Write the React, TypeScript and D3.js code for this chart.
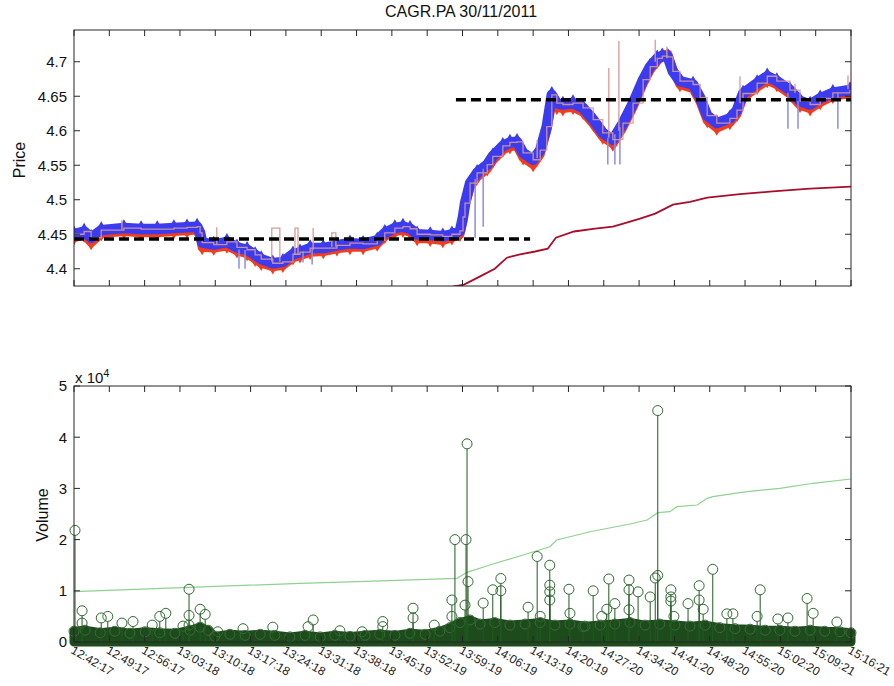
import React from 'react';
import * as d3 from 'd3';

// ---------- tick labels ----------
const timeLabels = ['12:42:17', '12:49:17', '12:56:17', '13:03:18', '13:10:18', '13:17:18', '13:24:18', '13:31:18', '13:38:18', '13:45:19', '13:52:19', '13:59:19', '14:06:19', '14:13:19', '14:20:19', '14:27:20', '14:34:20', '14:41:20', '14:48:20', '14:55:20', '15:02:20', '15:09:21', '15:16:21'];
const priceTicks = [4.4, 4.45, 4.5, 4.55, 4.6, 4.65, 4.7];
const volumeTicks = [0, 10000, 20000, 30000, 40000, 50000];

// ---------- quotes (minutes since 12:42:17) ----------
const quoteTimes = [0.0, 2.0, 3.4, 5.4, 9.9, 13.3, 16.5, 19.8, 22.4, 24.4, 25.0, 25.4, 27.7, 30.3, 32.3, 34.3, 35.9, 37.1, 39.4, 41.4, 43.4, 44.8, 46.8, 49.4, 52.1, 54.7, 57.3, 60.1, 61.6, 63.6, 65.2, 66.6, 68.0, 70.6, 73.1, 74.9, 76.5, 77.1, 77.5, 78.5, 79.9, 81.9, 83.0, 85.0, 86.4, 87.8, 89.0, 91.0, 92.4, 93.7, 94.7, 95.7, 96.9, 98.9, 100.9, 102.9, 104.8, 106.8, 108.8, 110.8, 112.8, 114.2, 115.6, 116.6, 117.7, 118.7, 120.1, 122.7, 124.1, 125.5, 127.4, 130.0, 131.4, 132.6, 135.4, 137.4, 139.3, 141.9, 143.9, 145.9, 147.9, 150.4, 153.8];
const askPrices = [4.450, 4.454, 4.445, 4.456, 4.459, 4.4575, 4.4575, 4.459, 4.460, 4.461, 4.452, 4.438, 4.435, 4.439, 4.431, 4.4275, 4.420, 4.414, 4.408, 4.410, 4.421, 4.424, 4.430, 4.430, 4.434, 4.437, 4.436, 4.441, 4.452, 4.459, 4.461, 4.458, 4.450, 4.449, 4.447, 4.450, 4.455, 4.475, 4.495, 4.524, 4.539, 4.551, 4.563, 4.578, 4.583, 4.584, 4.568, 4.558, 4.572, 4.606, 4.652, 4.640, 4.638, 4.640, 4.633, 4.616, 4.597, 4.587, 4.611, 4.640, 4.674, 4.693, 4.705, 4.708, 4.707, 4.686, 4.672, 4.667, 4.648, 4.622, 4.611, 4.618, 4.630, 4.654, 4.669, 4.679, 4.672, 4.659, 4.643, 4.638, 4.647, 4.655, 4.659];
const bidPrices = [4.445, 4.449, 4.438, 4.451, 4.454, 4.452, 4.452, 4.454, 4.455, 4.456, 4.446, 4.431, 4.430, 4.433, 4.426, 4.422, 4.414, 4.408, 4.403, 4.405, 4.416, 4.419, 4.424, 4.425, 4.429, 4.431, 4.431, 4.436, 4.447, 4.454, 4.456, 4.453, 4.444, 4.443, 4.441, 4.445, 4.450, 4.470, 4.490, 4.518, 4.533, 4.545, 4.557, 4.572, 4.577, 4.578, 4.561, 4.551, 4.566, 4.600, 4.640, 4.634, 4.632, 4.634, 4.627, 4.610, 4.591, 4.581, 4.605, 4.634, 4.668, 4.688, 4.701, 4.710, 4.711, 4.688, 4.667, 4.661, 4.642, 4.615, 4.604, 4.612, 4.624, 4.648, 4.663, 4.673, 4.667, 4.653, 4.637, 4.632, 4.641, 4.650, 4.654];

// trade price excursions above the quotes
const pinkStart = [9.5, 28.3, 39.2, 43.8, 47.4, 51.1, 91.8, 106.0, 108.0, 115.2, 117.5, 132.0, 142.9, 153.4];
const pinkEnd = [9.5, 28.3, 40.8, 44.4, 47.4, 51.9, 91.8, 106.0, 108.0, 115.2, 117.5, 132.0, 142.9, 153.4];
const pinkBase = [4.457, 4.436, 4.410, 4.420, 4.428, 4.432, 4.560, 4.590, 4.600, 4.700, 4.705, 4.640, 4.655, 4.660];
const pinkTop = [4.471, 4.460, 4.459, 4.459, 4.459, 4.452, 4.587, 4.691, 4.730, 4.732, 4.722, 4.679, 4.668, 4.680];

// quote excursions below
const blueSpikeTimes = [32.7, 33.9, 45.4, 47.2, 79.5, 81.1, 105.8, 107.2, 108.2, 141.5, 143.5, 151.4];
const blueSpikeFrom = [4.428, 4.427, 4.425, 4.430, 4.530, 4.545, 4.590, 4.595, 4.605, 4.655, 4.643, 4.655];
const blueSpikeTo = [4.400, 4.400, 4.409, 4.406, 4.445, 4.461, 4.551, 4.551, 4.551, 4.603, 4.603, 4.603];

// running average price
const avgTimes = [73.5, 75.1, 77.3, 80.5, 83.4, 85.8, 88.4, 91.4, 93.9, 94.7, 95.5, 99.1, 103.3, 106.8, 109.2, 112.2, 115.2, 118.7, 122.1, 125.5, 132.0, 138.5, 145.9, 154.0];
const avgPrices = [4.370, 4.374, 4.377, 4.389, 4.400, 4.416, 4.421, 4.425, 4.429, 4.437, 4.445, 4.454, 4.458, 4.461, 4.466, 4.4725, 4.480, 4.493, 4.497, 4.503, 4.508, 4.512, 4.516, 4.519];

// mean levels (dashed)
const meanLevels = [4.443, 4.645];
const meanStart = [0, 75.7];
const meanEnd = [90.4, 154];

// ---------- volume ----------
const tradeTimes = [0.2, 1.6, 1.6, 5.4, 6.7, 9.5, 11.7, 15.5, 17.0, 18.2, 21.6, 22.8, 22.8, 22.8, 25.0, 26.0, 28.5, 33.5, 39.4, 46.4, 47.4, 52.7, 57.1, 61.2, 61.2, 67.2, 67.2, 71.4, 74.9, 74.9, 75.5, 77.5, 77.7, 77.9, 78.1, 81.1, 83.0, 84.6, 84.6, 90.0, 91.8, 92.4, 94.3, 94.3, 94.3, 94.3, 98.1, 98.3, 100.9, 102.9, 104.6, 105.6, 106.0, 107.2, 110.0, 110.0, 110.0, 111.8, 114.2, 115.2, 115.7, 115.7, 118.3, 118.3, 118.3, 118.9, 121.7, 123.9, 123.9, 124.7, 126.6, 129.4, 130.6, 135.4, 136.0, 139.5, 141.5, 145.3, 146.5, 151.2];
const tradeVolumes = [21800, 6100, 3700, 4700, 5000, 3700, 4000, 3300, 5000, 5600, 3100, 10300, 5200, 3300, 6400, 5400, 2000, 2600, 2900, 3000, 4300, 2200, 2000, 4000, 3000, 6600, 4700, 3300, 8200, 5000, 20000, 7200, 20000, 38700, 11800, 7600, 10200, 12400, 10000, 6800, 16700, 5000, 15000, 11100, 9800, 8200, 10300, 5600, 3000, 10000, 5000, 6400, 12300, 7500, 12100, 10200, 6300, 9800, 8800, 12500, 45200, 13000, 10200, 8800, 8000, 5000, 7500, 11000, 8200, 6400, 14200, 5500, 5500, 5000, 10200, 4500, 4700, 8500, 5600, 3900];

// upper edge of the mass of small trades
const massTimes = [0, 2.2, 5.2, 8.1, 11.1, 14.1, 17.0, 20.0, 23.0, 25.0, 26.6, 27.9, 30.9, 33.9, 36.9, 39.8, 42.8, 45.8, 48.8, 51.7, 54.7, 57.7, 60.6, 63.6, 66.6, 69.6, 72.5, 74.5, 76.5, 78.5, 80.5, 83.4, 86.4, 89.4, 92.4, 95.3, 98.3, 101.3, 104.3, 107.2, 110.2, 113.2, 116.1, 119.1, 122.1, 125.1, 128.0, 131.0, 134.0, 137.0, 139.9, 142.9, 145.9, 148.8, 151.8, 154.0];
const massVolumes = [2100, 2300, 1800, 2100, 1700, 2000, 1800, 1700, 2300, 2900, 2300, 1100, 1500, 1300, 1500, 1300, 1000, 1300, 1000, 1300, 1100, 1300, 1500, 1300, 1700, 1500, 2100, 2800, 3800, 4300, 3500, 3800, 3300, 3500, 3800, 3300, 3500, 3100, 3300, 3500, 3800, 3300, 3500, 3300, 3100, 3300, 2800, 2600, 2500, 2300, 2300, 2100, 2300, 2100, 2000, 1800];

// cumulative volume (scaled)
const cumTimes = [0, 44.8, 62.6, 75.9, 77.9, 82.4, 89.0, 94.3, 95.7, 102.3, 110.2, 113.6, 115.7, 118.1, 119.5, 123.5, 125.5, 126.6, 133.4, 139.9, 146.5, 154.0];
const cumVolumes = [9820, 11460, 11970, 12440, 13610, 15040, 16990, 18610, 19920, 21540, 23050, 23830, 25260, 25450, 26430, 26760, 28060, 28380, 29360, 30020, 31000, 31840];

const FONT = "'Liberation Sans', Arial, Helvetica, sans-serif";
const AXIS = '#262626';

export default function App() {
  const L = 74, R = 851;
  const T1 = 30, B1 = 286, T2 = 386, B2 = 642;
  const x = d3.scaleLinear().domain([0, 154]).range([L, R]);
  const yP = d3.scaleLinear().domain([4.375, 4.746]).range([B1, T1]);
  const yV = d3.scaleLinear().domain([0, 50000]).range([B2, T2]);
  const tickXs = timeLabels.map((_, i) => x(i * 7));

  const quoteLine = (vals: number[]) =>
    d3.line<number>().x((_, i) => x(quoteTimes[i])).y(d => yP(d))(vals) || '';
  const stepLine = d3.line<number>().x((_, i) => x(quoteTimes[i])).y(d => yP(d)).curve(d3.curveStepAfter)(askPrices) || '';
  const avgLine = d3.line<number>().x((_, i) => x(avgTimes[i])).y(d => yP(d))(avgPrices) || '';
  const cumLine = d3.line<number>().x((_, i) => x(cumTimes[i])).y(d => yV(d))(cumVolumes) || '';
  const massArea = d3.area<number>().x((_, i) => x(massTimes[i])).y0(yV(0)).y1(d => yV(d))(massVolumes) || '';
  const tri = d3.symbol().type(d3.symbolTriangle).size(30)() || '';

  const frameTicks = (top: number, bottom: number, yTicks: number[], yScale: (v: number) => number) => (
    <g stroke={AXIS} strokeWidth={1}>
      {tickXs.map((tx, i) => (
        <g key={'xt' + i}>
          <line x1={tx} x2={tx} y1={top} y2={top + 6} />
          <line x1={tx} x2={tx} y1={bottom} y2={bottom - 6} />
        </g>
      ))}
      {yTicks.map((v, i) => (
        <g key={'yt' + i}>
          <line x1={L} x2={L + 6} y1={yScale(v)} y2={yScale(v)} />
          <line x1={R} x2={R - 6} y1={yScale(v)} y2={yScale(v)} />
        </g>
      ))}
      <rect x={L} y={top} width={R - L} height={bottom - top} fill="none" />
    </g>
  );

  return (
    <svg width={894} height={686} style={{ position: 'absolute', left: 0, top: 0, background: '#fff' }} fontFamily={FONT}>
      <defs>
        <clipPath id="clipTop"><rect x={L} y={T1} width={R - L} height={B1 - T1} /></clipPath>
      </defs>
      <rect x={0} y={0} width={894} height={686} fill="#fff" />

      <text x={461} y={17} textAnchor="middle" fontSize={16} fill="#111">CAGR.PA 30/11/2011</text>

      {/* ---------- price panel ---------- */}
      <g clipPath="url(#clipTop)">
        <path d={quoteLine(bidPrices)} fill="none" stroke="#f23d1c" strokeWidth={9} strokeLinejoin="round" strokeLinecap="round" />
        {bidPrices.map((p, i) => (
          <path key={'bm' + i} d={tri} transform={`translate(${x(quoteTimes[i])},${yP(p) + 3}) rotate(180)`} fill="#f23d1c" />
        ))}
        <path d={quoteLine(askPrices)} fill="none" stroke="#3b3bf0" strokeWidth={10.5} strokeLinejoin="round" strokeLinecap="round" />
        {askPrices.map((p, i) => (
          <path key={'am' + i} d={tri} transform={`translate(${x(quoteTimes[i])},${yP(p) - 4})`} fill="#3b3bf0" />
        ))}
        {blueSpikeTimes.map((t, i) => (
          <line key={'bs' + i} x1={x(t)} x2={x(t)} y1={yP(blueSpikeFrom[i])} y2={yP(blueSpikeTo[i])} stroke="#8c8ce6" strokeWidth={1.5} />
        ))}
        <path d={stepLine} fill="none" stroke="#d89a96" strokeWidth={1.3} opacity={0.9} />
        {pinkStart.map((t, i) => (
          <path key={'pp' + i}
            d={`M${x(t)},${yP(pinkBase[i])}L${x(t)},${yP(pinkTop[i])}L${x(pinkEnd[i])},${yP(pinkTop[i])}L${x(pinkEnd[i])},${yP(pinkBase[i])}`}
            fill="none" stroke="#d89a96" strokeWidth={1.3} />
        ))}
        {meanLevels.map((lv, i) => (
          <line key={'ml' + i} x1={x(meanStart[i])} x2={x(meanEnd[i])} y1={yP(lv)} y2={yP(lv)} stroke="#000" strokeWidth={3.5} strokeDasharray="10 5" />
        ))}
        <path d={avgLine} fill="none" stroke="#a80d2c" strokeWidth={1.8} />
      </g>
      {frameTicks(T1, B1, priceTicks, yP)}
      {priceTicks.map((v, i) => (
        <text key={'pl' + i} x={67} y={yP(v)} dy="0.36em" textAnchor="end" fontSize={15} fill="#111">{String(v)}</text>
      ))}
      <text transform={`translate(25,160) rotate(-90)`} textAnchor="middle" fontSize={16} fill="#111">Price</text>

      {/* ---------- volume panel ---------- */}
      <path d={cumLine} fill="none" stroke="#8fd28f" strokeWidth={1.2} />
      <path d={massArea} fill="#1d4b1c" stroke="#1d4b1c" strokeWidth={9} strokeLinejoin="round" strokeLinecap="round" />
      {massVolumes.map((v, i) => (
        <circle key={'mc' + i} cx={x(massTimes[i])} cy={yV(v)} r={5} fill="none" stroke="#3c6a3a" strokeWidth={1} />
      ))}
      {tradeTimes.map((t, i) => (
        <line key={'st' + i} x1={x(t)} x2={x(t)} y1={yV(0)} y2={yV(tradeVolumes[i]) + 5} stroke="#1f5a1f" strokeWidth={1} />
      ))}
      {tradeTimes.map((t, i) => (
        <circle key={'tc' + i} cx={x(t)} cy={yV(tradeVolumes[i])} r={5} fill="none" stroke="#2f6a2f" strokeWidth={1} />
      ))}
      {frameTicks(T2, B2, volumeTicks, yV)}
      {volumeTicks.map((v, i) => (
        <text key={'vl' + i} x={67} y={yV(v)} dy="0.36em" textAnchor="end" fontSize={15} fill="#111">{String(v / 10000)}</text>
      ))}
      <text x={75} y={383} fontSize={15} fill="#111">x 10<tspan dy={-6} fontSize={11}>4</tspan></text>
      <text transform={`translate(48,515) rotate(-90)`} textAnchor="middle" fontSize={16} fill="#111">Volume</text>
      {timeLabels.map((lab, i) => (
        <text key={'tl' + i} transform={`translate(${tickXs[i] + 0.5},645) rotate(30)`} dominantBaseline="hanging" fontSize={12} fill="#222">{lab}</text>
      ))}
    </svg>
  );
}
